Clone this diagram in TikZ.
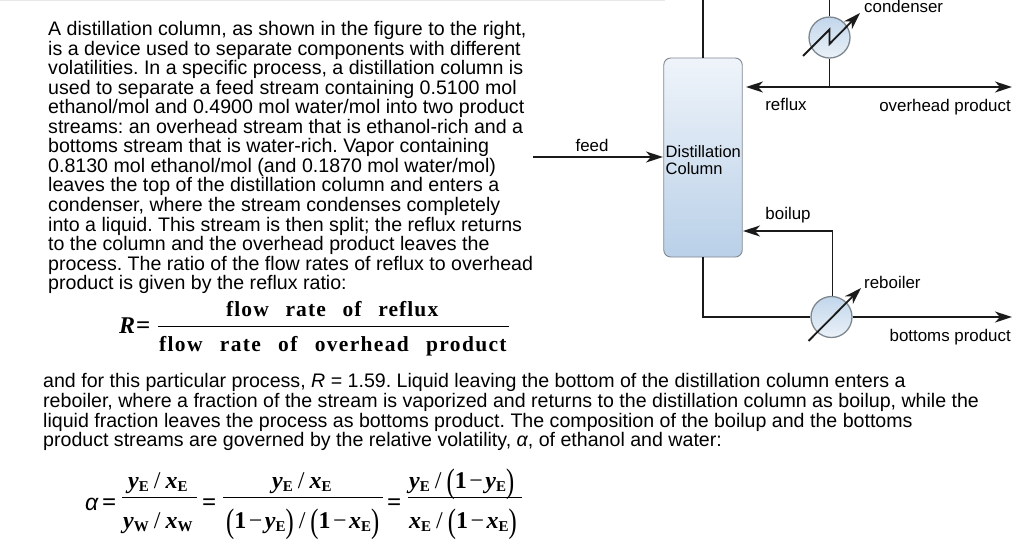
\documentclass[tikz,border=0pt]{standalone}
\usepackage{fontspec}
\usepackage{graphicx}
\setmainfont{Liberation Sans}
\newfontfamily\eqfont{Liberation Serif}
\newfontfamily\eqspaced[LetterSpace=5,WordSpace=2.6]{Liberation Serif}
\newfontfamily\eqspacedb[LetterSpace=6.1,WordSpace=2.6]{Liberation Serif}
\usetikzlibrary{arrows.meta}
\definecolor{linek}{HTML}{1A1A1A}
\definecolor{edge}{HTML}{7E8790}
\frenchspacing
\newcommand{\vy}{\textbf{\textit{y}}}
\newcommand{\vx}{\textbf{\textit{x}}}
\newcommand{\sbE}{\raisebox{-3.5pt}{\fontsize{15}{15}\selectfont\textbf{E}}}
\newcommand{\sbW}{\raisebox{-3.5pt}{\fontsize{15}{15}\selectfont\textbf{W}}}
\newcommand{\pl}{\raisebox{-4pt}{\scalebox{0.72}[1]{\fontsize{34}{34}\selectfont\char`\(}}}
\newcommand{\pr}{\raisebox{-4pt}{\scalebox{0.72}[1]{\fontsize{34}{34}\selectfont\char`\)}}}
\newcommand{\om}{\textbf{1}\kern2.5pt\textminus\kern2.5pt}
\newcommand{\sla}{\kern5pt/\kern5pt}
\tikzset{
  body/.style={anchor=base west,inner sep=0pt,font=\fontsize{19.6}{19.6}\selectfont},
  lab/.style={anchor=base,inner sep=0pt,font=\fontsize{16.9}{16.9}\selectfont},
  labw/.style={lab,anchor=base west},
  labe/.style={lab,anchor=base east},
  eqbig/.style={anchor=base west,inner sep=0pt,font=\fontsize{21.5}{21.5}\selectfont\eqspaced\bfseries},
  eqbigb/.style={eqbig,font=\fontsize{21.5}{21.5}\selectfont\eqspacedb\bfseries},
  eq/.style={anchor=base west,inner sep=0pt,font=\fontsize{24}{24}\selectfont\eqfont},
  eqsign/.style={anchor=base west,inner sep=0pt,font=\fontsize{25}{25}\selectfont\eqfont\bfseries},
  flow/.style={draw=linek,line width=1.8pt},
  flowa/.style={flow,-{Stealth[length=17pt,width=11pt,inset=5pt]}},
  frac/.style={draw=black,line width=1pt},
  hx/.style={circle,draw=edge,line width=1.3pt,minimum size=41pt,inner sep=0pt,top color=C5D8EC,bottom color=EAF1F8},
}
\definecolor{C5D8EC}{HTML}{C2D6EB}
\definecolor{EAF1F8}{HTML}{EAF1F8}
\definecolor{coltop}{HTML}{EFF4FA}
\definecolor{colbot}{HTML}{B9D0E8}
\begin{document}
\begin{tikzpicture}[x=1pt,y=-1pt]
\useasboundingbox (0,0) rectangle (1024,542);
\fill[black!9] (0,0) rectangle (665,1.2);
% paragraph 1
\node[body] (p1)  at (48,35.5) {A distillation column, as shown in the figure to the right,};
\node[body] (p2)  at (48,55) {is a device used to separate components with different};
\node[body] (p3)  at (48,74.6) {volatilities. In a specific process, a distillation column is};
\node[body] (p4)  at (48,94.1) {used to separate a feed stream containing 0.5100 mol};
\node[body] (p5)  at (48,113.7) {ethanol/mol and 0.4900 mol water/mol into two product};
\node[body] (p6)  at (48,133.2) {streams: an overhead stream that is ethanol-rich and a};
\node[body] (p7)  at (48,152.8) {bottoms stream that is water-rich. Vapor containing};
\node[body] (p8)  at (48,172.3) {0.8130 mol ethanol/mol (and 0.1870 mol water/mol)};
\node[body] (p9)  at (48,191.9) {leaves the top of the distillation column and enters a};
\node[body] (p10) at (48,211.4) {condenser, where the stream condenses completely};
\node[body] (p11) at (48,231) {into a liquid. This stream is then split; the reflux returns};
\node[body] (p12) at (48,250.5) {to the column and the overhead product leaves the};
\node[body] (p13) at (48,270.1) {process. The ratio of the flow rates of reflux to overhead};
\node[body] (p14) at (48,289.6) {product is given by the reflux ratio:};
% R equation
\node[eq] (R) at (119,333) {\textbf{\textit{R}}};
\node[eqsign] (Req) at (136,333) {=};
\node[eqbig] (Rn) at (226,316) {flow rate of reflux};
\node[eqbigb] (Rd) at (159,351) {flow rate of overhead product};
\coordinate (Rl) at (158,326); \coordinate (Rr) at (509,326);
\draw[frac] (Rl) -- (Rr);
% paragraph 2
\node[body] (q1) at (43,387.7) {and for this particular process, \textit{R} = 1.59. Liquid leaving the bottom of the distillation column enters a};
\node[body] (q2) at (43,407.2) {reboiler, where a fraction of the stream is vaporized and returns to the distillation column as boilup, while the};
\node[body] (q3) at (43,427) {liquid fraction leaves the process as bottoms product. The composition of the boilup and the bottoms};
\node[body] (q4) at (43,446.7) {product streams are governed by the relative volatility, \textit{α}, of ethanol and water:};
% alpha equation
\node[eq,font=\fontsize{23}{23}\selectfont\itshape] (al) at (85,510) {α};
\node[eqsign] (e1) at (102,510) {=};
\node[eq] (n1) at (128,488) {\vy\sbE\sla\vx\sbE};
\node[eq] (d1) at (123,528) {\vy\sbW\sla\vx\sbW};
\coordinate (f1a) at (122,497); \coordinate (f1b) at (197,497);
\draw[frac] (f1a) -- (f1b);
\node[eqsign] (e2) at (202,510) {=};
\node[eq] (n2) at (272,488) {\vy\sbE\sla\vx\sbE};
\node[eq] (d2) at (226,528) {\pl\om\vy\sbE\pr\sla\pl\om\vx\sbE\pr};
\coordinate (f2a) at (223,497); \coordinate (f2b) at (383,497);
\draw[frac] (f2a) -- (f2b);
\node[eqsign] (e3) at (387,510) {=};
\node[eq] (n3) at (409,488) {\vy\sbE\sla\pl\om\vy\sbE\pr};
\node[eq] (d3) at (409,528) {\vx\sbE\sla\pl\om\vx\sbE\pr};
\coordinate (f3a) at (408,497); \coordinate (f3b) at (522,497);
\draw[frac] (f3a) -- (f3b);
% column and exchangers
\node[draw=edge,line width=0.9pt,rounded corners=7pt,minimum width=78.5pt,minimum height=199pt,inner sep=0pt,top color=coltop,bottom color=colbot] (col) at (703,157.5) {};
\node[labw,font=\fontsize{16.5}{17}\selectfont] (cname) at (665.5,157.5) {Distillation};
\node[labw,font=\fontsize{16.5}{17}\selectfont] (cname2) at (665.5,174.5) {Column};
\node[hx] (cond) at (829.5,37.5) {};
\node[hx] (reb) at (831.5,317) {};
% free ends
\coordinate (ctop) at (703,0);
\coordinate (ttop) at (829.5,0);
\coordinate (split) at (829.5,87);
\coordinate (refl) at (746,87);
\coordinate (ovh) at (1012,87);
\coordinate (fs) at (533,157);
\coordinate (ft) at (663,157);
\coordinate (bo) at (743,231);
\coordinate (bc) at (832.5,231);
\coordinate (bl) at (703,317);
\coordinate (bt) at (1012,317);
% connectors
\draw[flow] (ctop) -- (col.north);
\draw[flow] (ttop) -- (cond.north);
\draw[flow] (cond.south) -- (split);
\draw[flowa] (split) -- (refl);
\draw[flowa] (split) -- (ovh);
\draw[flowa] (fs) -- (ft);
\draw[flow] (col.south) -- (bl) -- (reb.west);
\draw[flowa] (reb.east) -- (bt);
\draw[flowa] (reb.north -| bc) -- (bc) -- (bo);
% exchanger arrows
\coordinate (z0) at (803,56); \coordinate (z1) at (829.5,29.5); \coordinate (z2) at (829.5,44); \coordinate (z3) at (860,13);
\draw[flowa] (z0) -- (z1) -- (z2) -- (z3);
\coordinate (r0) at (808.5,341); \coordinate (r1) at (861,288);
\draw[flowa] (r0) -- (r1);
% labels
\node[lab] (lfeed) at (592,151.4) {feed};
\node[lab] (lrefl) at (786,110.7) {reflux};
\node[labe] (lovh) at (1011,111.2) {overhead product};
\node[labw] (lcond) at (864,12.5) {condenser};
\node[lab] (lboil) at (788,219.4) {boilup};
\node[labw] (lreb) at (864,288.4) {reboiler};
\node[labe] (lbot) at (1011,341.4) {bottoms product};
\end{tikzpicture}
\end{document}
